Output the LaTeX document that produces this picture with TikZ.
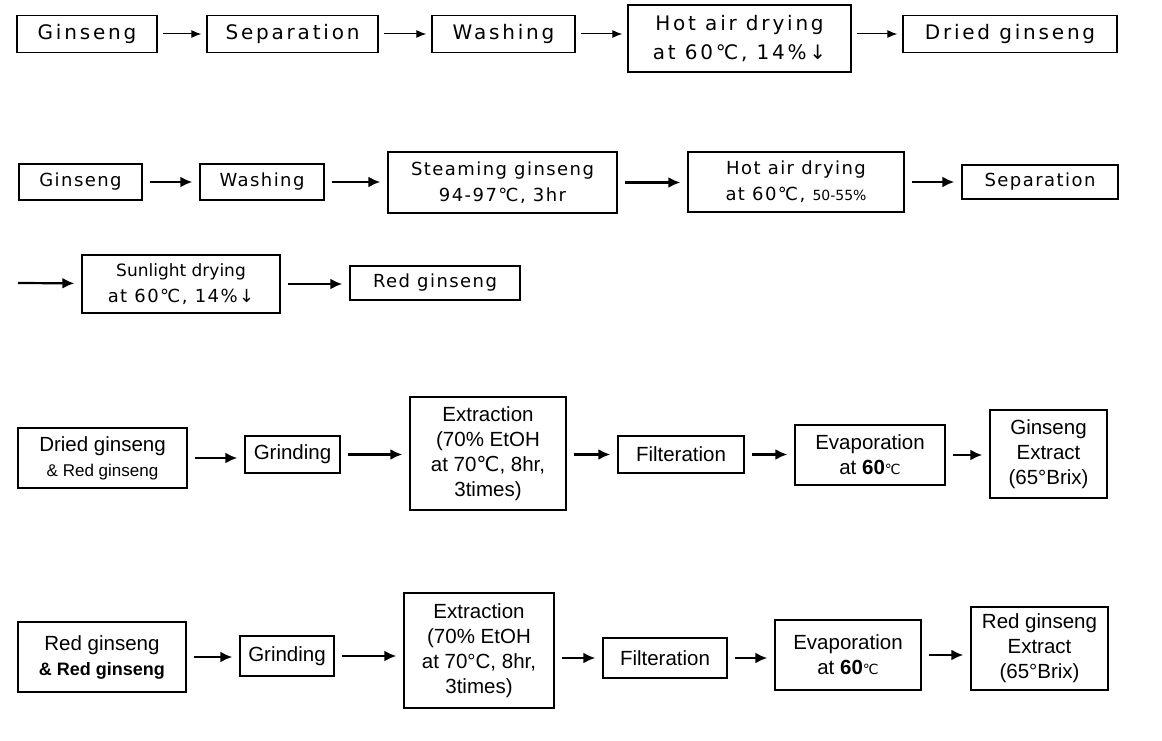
\documentclass[tikz,border=0pt]{standalone}
\usepackage{fontspec}
\setmainfont{Liberation Sans}
\newfontfamily\widefont[LetterSpace=14]{DejaVu Sans}
\newfontfamily\midfont[LetterSpace=8]{DejaVu Sans}
\newfontfamily\symfont{DejaVu Sans}
\usetikzlibrary{arrows.meta}

\begin{document}
\begin{tikzpicture}[x=1pt,y=-1pt,
    box/.style={draw,line width=1.4pt,inner sep=0pt,align=center},
    toprow/.style={box,font=\widefont\fontsize{20}{29}\selectfont},
    midrow/.style={box,font=\midfont\fontsize{18}{26}\selectfont},
    lowrow/.style={box,font=\fontsize{20.5}{25}\selectfont},
    thinarr/.style={-{Latex[length=10pt,width=8pt]},line width=1pt,shorten <=5pt,shorten >=5pt},
    thickarr/.style={-{Latex[length=12pt,width=11pt]},line width=2.2pt,shorten <=7pt,shorten >=7pt}]
  \useasboundingbox (0,0) rectangle (1162,741);
  % drying of white ginseng
  \draw
    (87,34) node[toprow,minimum width=140,minimum height=37] (a0){Ginseng}
    (292.5,34) node[toprow,minimum width=171,minimum height=37] (a1){Separation}
    (503.5,34) node[toprow,minimum width=143,minimum height=37] (a2){Washing}
    (739.5,38.5) node[toprow,minimum width=223,minimum height=67] (a3){Hot air drying\\at 60℃, 14\%↓}
    (1010,34) node[toprow,minimum width=214,minimum height=37] (a4){Dried ginseng};
  % steaming to red ginseng
  \draw
    (80.5,182) node[midrow,minimum width=123,minimum height=36] (b0){Ginseng}
    (262,182) node[midrow,minimum width=124,minimum height=36] (b1){Washing}
    (502.5,182.5) node[midrow,minimum width=229,minimum height=61] (b2){Steaming ginseng\\94-97℃, 3hr}
    (796,182) node[midrow,minimum width=216,minimum height=60] (b3){Hot air drying\\at 60℃, {\symfont\fontsize{14}{20}\selectfont 50-55\%}}
    (1040,182) node[midrow,minimum width=156,minimum height=34] (b4){Separation}
    (181,284) node[midrow,minimum width=198,minimum height=58] (c0){{\symfont\fontsize{17}{20}\selectfont Sunlight drying}\\at 60℃, 14\%↓}
    (435,283) node[midrow,minimum width=170,minimum height=34] (c1){Red ginseng};
  \coordinate (cin) at (18,283);
  % extracts
  \draw
    (102.5,458) node[lowrow,minimum width=169,minimum height=60] (d0){Dried ginseng\\{\fontsize{17}{20}\selectfont\& Red ginseng}}
    (292.5,454.5) node[lowrow,minimum width=95,minimum height=37] (d1){Grinding}
    (488,453.5) node[lowrow,minimum width=156,minimum height=113] (d2){Extraction\\(70\% EtOH\\at 70{\symfont ℃}, 8hr,\\3times)}
    (681,454.5) node[lowrow,minimum width=126,minimum height=37] (d3){Filteration}
    (870,455) node[lowrow,minimum width=150,minimum height=60] (d4){Evaporation\\at \textbf{60}{\symfont\fontsize{14}{20}\selectfont ℃}}
    (1048.5,454) node[lowrow,minimum width=117,minimum height=88] (d5){Ginseng\\Extract\\(65°Brix)}
    (102,657) node[lowrow,minimum width=168,minimum height=70] (e0){Red ginseng\\{\fontsize{18}{20}\selectfont\bfseries\& Red ginseng}}
    (287,656) node[lowrow,minimum width=94,minimum height=40] (e1){Grinding}
    (479,650.5) node[lowrow,minimum width=150,minimum height=115] (e2){Extraction\\(70\% EtOH\\at 70°C, 8hr,\\3times)}
    (665,658) node[lowrow,minimum width=124,minimum height=40] (e3){Filteration}
    (848,655) node[lowrow,minimum width=146,minimum height=70] (e4){Evaporation\\at \textbf{60}{\symfont\fontsize{14}{20}\selectfont ℃}}
    (1039.5,648.5) node[lowrow,minimum width=137,minimum height=83] (e5){Red ginseng\\Extract\\(65°Brix)};
  \begin{scope}[thinarr]
    \draw (a0) -- (a0 -| a1.west);
    \draw (a1) -- (a1 -| a2.west);
    \draw (a2) -- (a2 -| a3.west);
    \draw (a3.east |- a4) -- (a4);
  \end{scope}
  \begin{scope}[thickarr]
    \draw (b0) -- (b0 -| b1.west);
    \draw (b1) -- (b1 -| b2.west);
    \draw (b2) -- (b2 -| b3.west);
    \draw (b3) -- (b3 -| b4.west);
    \draw[shorten <=0pt] (cin) -- (c0);
    \draw (c0) -- (c0 -| c1.west);
    \draw (d0) -- (d0 -| d1.west);
    \draw (d1) -- (d1 -| d2.west);
    \draw (d2.east |- d3) -- (d3);
    \draw (d3) -- (d3 -| d4.west);
    \draw (d4) -- (d4 -| d5.west);
    \draw (e0) -- (e0 -| e1.west);
    \draw (e1) -- (e1 -| e2.west);
    \draw (e2.east |- e3) -- (e3);
    \draw (e3) -- (e3 -| e4.west);
    \draw (e4) -- (e4 -| e5.west);
  \end{scope}
\end{tikzpicture}
\end{document}
